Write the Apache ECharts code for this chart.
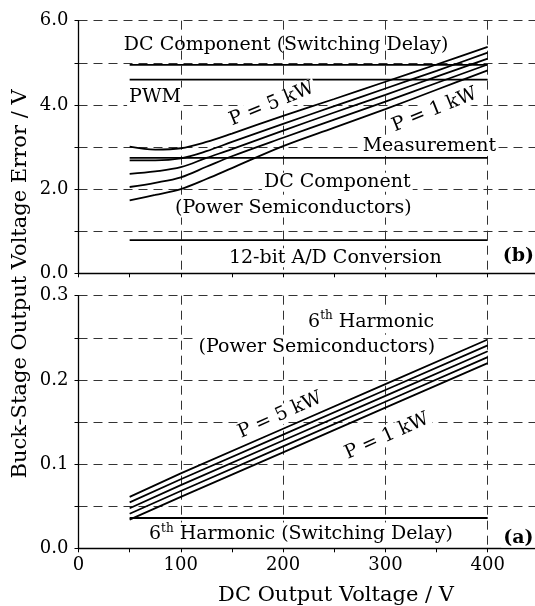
<!DOCTYPE html>
<html>
<head>
<meta charset="utf-8">
<script src="https://cdn.jsdelivr.net/npm/echarts@6/dist/echarts.min.js"></script>
<style>
  html, body { margin: 0; padding: 0; background: #fff; overflow: hidden; }
  #chart { width: 535px; height: 606px; }
</style>
</head>
<body>
<div id="chart"></div>
<script>
// ---------- data ----------
// top panel (b): DC output voltage [V] vs. error [V]
const xTop = [50, 75, 100, 125, 150, 200, 250, 300, 350, 400];
const topP5 = [3.01, 2.94, 2.97, 3.12, 3.32, 3.74, 4.14, 4.55, 4.96, 5.38];
const topP4 = [2.68, 2.68, 2.73, 2.90, 3.12, 3.55, 3.97, 4.39, 4.81, 5.24];
const topP3 = [2.36, 2.42, 2.52, 2.74, 2.95, 3.39, 3.82, 4.24, 4.67, 5.10];
const topP2 = [2.05, 2.15, 2.28, 2.53, 2.78, 3.22, 3.65, 4.08, 4.52, 4.96];
const topP1 = [1.73, 1.86, 2.00, 2.24, 2.50, 3.02, 3.46, 3.90, 4.36, 4.82];
const hX = [50, 400];
const topDelay = 4.95;
const topPWM = 4.60;
const topMeas = 2.74;
const topAD = 0.79;

// bottom panel (a)
const xBot = [50, 100, 200, 300, 400];
const botP5 = [0.061, 0.089, 0.142, 0.195, 0.248];
const botP4 = [0.0545, 0.082, 0.135, 0.188, 0.241];
const botP3 = [0.0475, 0.075, 0.128, 0.181, 0.234];
const botP2 = [0.041, 0.068, 0.121, 0.174, 0.227];
const botP1 = [0.034, 0.061, 0.114, 0.167, 0.220];
const botDelay = 0.036;

// tick labels
const xTickLabels = [0, 100, 200, 300, 400];
const yTopTickLabels = [0, 2, 4, 6];
const yBotTickLabels = [0, 0.1, 0.2, 0.3];

// ---------- chart ----------
const FONT = 'DejaVu Serif';
const chart = echarts.init(document.getElementById('chart'), null, { renderer: 'canvas' });

const zip = (xs, ys) => xs.map((x, i) => [x, ys[i]]);
const flat = (xs, v) => xs.map(x => [x, v]);

function lineSeries(data, xi, smooth) {
  return {
    type: 'line', xAxisIndex: xi, yAxisIndex: xi, data: data,
    showSymbol: false, symbol: 'none', smooth: smooth,
    lineStyle: { color: '#000', width: 1.8 }, silent: true, z: 3
  };
}

const gridDash = { type: [9, 6], color: '#333', width: 1 };

function xAxisDef(gi, showLabel) {
  return {
    gridIndex: gi, type: 'value', min: 0, max: 500, interval: 100,
    axisLine: { show: true, onZero: false, lineStyle: { color: '#000', width: 1.3 } },
    axisTick: { show: true, length: 4, lineStyle: { color: '#000', width: 1 } },
    minorTick: { show: true, splitNumber: 2, length: 4, lineStyle: { color: '#000', width: 1 } },
    axisLabel: {
      show: showLabel, fontFamily: FONT, fontSize: 18, color: '#000', margin: 8,
      formatter: v => (xTickLabels.indexOf(v) >= 0 ? String(v) : '')
    },
    splitLine: { show: true, lineStyle: gridDash }
  };
}

chart.setOption({
  animation: false,
  backgroundColor: '#fff',
  grid: [
    { left: 78.5, top: 20.7, width: 511.5, height: 252.6, containLabel: false, outerBoundsMode: 'none' },
    { left: 78.5, top: 295.7, width: 511.5, height: 252.6, containLabel: false, outerBoundsMode: 'none' }
  ],
  xAxis: [xAxisDef(0, false), xAxisDef(1, true)],
  yAxis: [
    {
      gridIndex: 0, type: 'value', min: 0, max: 6, interval: 1,
      axisLine: { show: true, lineStyle: { color: '#000', width: 1.3 } },
      axisTick: { show: true, length: 4, lineStyle: { color: '#000' } },
      axisLabel: {
        fontFamily: FONT, fontSize: 18, color: '#000', margin: 10,
        formatter: v => (yTopTickLabels.indexOf(v) >= 0 ? v.toFixed(1) : '')
      },
      splitLine: { show: true, lineStyle: gridDash }
    },
    {
      gridIndex: 1, type: 'value', min: 0, max: 0.3, interval: 0.05,
      axisLine: { show: true, lineStyle: { color: '#000', width: 1.3 } },
      axisTick: { show: true, length: 4, lineStyle: { color: '#000' } },
      axisLabel: {
        fontFamily: FONT, fontSize: 18, color: '#000', margin: 10,
        formatter: v => (yBotTickLabels.some(t => Math.abs(t - v) < 1e-6) ? v.toFixed(1) : '')
      },
      splitLine: { show: true, lineStyle: gridDash }
    }
  ],
  series: [
    lineSeries(zip(xTop, topP5), 0, 0.35),
    lineSeries(zip(xTop, topP4), 0, 0.35),
    lineSeries(zip(xTop, topP3), 0, 0.35),
    lineSeries(zip(xTop, topP2), 0, 0.35),
    lineSeries(zip(xTop, topP1), 0, 0.35),
    lineSeries(flat(hX, topDelay), 0, false),
    lineSeries(flat(hX, topPWM), 0, false),
    lineSeries(flat(hX, topMeas), 0, false),
    lineSeries(flat(hX, topAD), 0, false),
    lineSeries(zip(xBot, botP5), 1, false),
    lineSeries(zip(xBot, botP4), 1, false),
    lineSeries(zip(xBot, botP3), 1, false),
    lineSeries(zip(xBot, botP2), 1, false),
    lineSeries(zip(xBot, botP1), 1, false),
    lineSeries(flat(hX, botDelay), 1, false)
  ]
});

// ---------- annotations (data coordinates) ----------
const annTop = [
  { t: 'DC Component (Switching Delay)', x: 203, y: 5.42, bg: false },
  { t: 'PWM', x: 47.5, y: 4.19, align: 'left', bg: true },
  { t: 'P = 5 kW', x: 189, y: 4.02, rot: 22, bg: true },
  { t: 'P = 1 kW', x: 348, y: 3.88, rot: 22, bg: true },
  { t: 'Measurement', x: 343, y: 3.02, bg: true },
  { t: 'DC Component', x: 253, y: 2.16, bg: true },
  { t: '(Power Semiconductors)', x: 210, y: 1.55, bg: true },
  { t: '12-bit A/D Conversion', x: 251, y: 0.37, bg: true },
  { t: '(b)', x: 430, y: 0.41, bold: true, bg: true }
];
const annBot = [
  { t: '6{sup|th} Harmonic', x: 286, y: 0.269, bg: true },
  { t: '(Power Semiconductors)', x: 233, y: 0.2387, bg: true },
  { t: 'P = 5 kW', x: 197, y: 0.158, rot: 24, bg: true },
  { t: 'P = 1 kW', x: 301.5, y: 0.133, rot: 24, bg: true },
  { t: '6{sup|th} Harmonic (Switching Delay)', x: 217.5, y: 0.017, bg: true },
  { t: '(a)', x: 430, y: 0.0122, bold: true, bg: true }
];

function mkText(a, gi) {
  const p = chart.convertToPixel({ gridIndex: gi }, [a.x, a.y]);
  return {
    type: 'text', x: p[0], y: p[1],
    rotation: (a.rot || 0) * Math.PI / 180,
    z: 10,
    style: {
      text: a.t,
      fontFamily: FONT, fontSize: 19, fontWeight: a.bold ? 'bold' : 'normal',
      fill: '#000',
      align: a.align || 'center', verticalAlign: 'middle',
      backgroundColor: a.bg ? '#fff' : null,
      padding: a.bg ? [0, 2, 0, 2] : 0,
      rich: {
        sup: { fontFamily: FONT, fontSize: 12, fill: '#000', verticalAlign: 'top', lineHeight: 23 }
      }
    }
  };
}

const graphics = [];
annTop.forEach(a => graphics.push(mkText(a, 0)));
annBot.forEach(a => graphics.push(mkText(a, 1)));
graphics.push({
  type: 'text', x: 21, y: 284, rotation: Math.PI / 2, z: 10,
  style: { text: 'Buck-Stage Output Voltage Error / V', fontFamily: FONT, fontSize: 21,
           fill: '#000', align: 'center', verticalAlign: 'middle' }
});
graphics.push({
  type: 'text', x: 336, y: 596, z: 10,
  style: { text: 'DC Output Voltage / V', fontFamily: FONT, fontSize: 21,
           fill: '#000', align: 'center', verticalAlign: 'middle' }
});
chart.setOption({ graphic: graphics });
</script>
</body>
</html>
